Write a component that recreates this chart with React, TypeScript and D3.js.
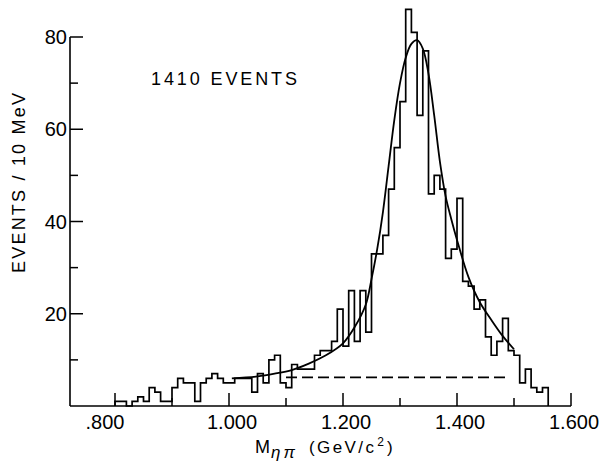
import React from "react";
import * as d3 from "d3";

// eta-pi mass histogram, 10 MeV bins starting at 0.800 GeV
const binStart = 0.8;
const binWidth = 0.01;
const counts = [
  1, 1, 0, 1, 2, 1, 4, 3, 1, 1,
  4, 6, 5, 5, 1, 5, 6, 7, 6, 5,
  5, 6, 6, 6, 3, 7, 5, 10, 11, 5,
  4, 9, 8, 8, 8, 11, 12, 12, 14, 21,
  13, 25, 14, 25, 16, 33, 33, 37, 47, 56,
  66, 86, 81, 63, 77, 46, 50, 47, 32, 34,
  45, 27, 26, 21, 23, 15, 11, 14, 19, 12,
  11, 5, 8, 4, 3, 4,
];

// fitted curve
const fitMass = [
  1.005, 1.05, 1.08, 1.11, 1.14, 1.17, 1.2, 1.22, 1.24, 1.25, 1.26, 1.27, 1.28, 1.29, 1.3,
  1.31, 1.32, 1.33, 1.34, 1.35, 1.36, 1.37, 1.38, 1.39, 1.4, 1.42, 1.44, 1.46, 1.48, 1.5,
];
const fitEvents = [
  6.0, 6.4, 7.0, 7.8, 9.2, 11, 13.6, 17, 22, 27.5, 34, 42, 52, 62, 70,
  75.5, 78.5, 79.3, 77.5, 72, 63, 53, 45.5, 40.5, 36, 28, 22.5, 18.7, 15.2, 12.3,
];

// dashed background level
const bgMass = [1.1, 1.49];
const bgLevel = 6.2;

const xMajor = [0.8, 1.0, 1.2, 1.4, 1.6];
const xMinor = [0.9, 1.1, 1.3, 1.5];
const xLabels = [".800", "1.000", "1.200", "1.400", "1.600"];
const yMajor = [20, 40, 60, 80];
const yMinor = [10, 30, 50, 70];

const font = "'Liberation Sans', Arial, sans-serif";

export default function App() {
  const W = 604;
  const H = 464;
  const axisLeft = 70;

  const x = d3.scaleLinear().domain([0.8, 1.6]).range([115, 571]);
  const y = d3.scaleLinear().domain([0, 80]).range([406, 37]);

  // histogram outline as one stepped path
  const pts: [number, number][] = [[binStart, 0]];
  counts.forEach((c, i) => {
    const m0 = binStart + i * binWidth;
    pts.push([m0, c], [m0 + binWidth, c]);
  });
  pts.push([binStart + counts.length * binWidth, 0]);
  const histPath = d3
    .line<[number, number]>()
    .x((d) => x(d[0]))
    .y((d) => y(d[1]))(pts);

  const fitPath = d3
    .line<number>()
    .curve(d3.curveCatmullRom.alpha(0.5))
    .x((m) => x(m))
    .y((_, i) => y(fitEvents[i]))(fitMass);

  return (
    <svg
      width={W}
      height={H}
      style={{ position: "absolute", left: 0, top: 0, background: "#fff" }}
    >
      {/* axes */}
      <line x1={axisLeft} x2={axisLeft} y1={y(80)} y2={y(0)} stroke="#000" strokeWidth={1.6} />
      <line x1={axisLeft} x2={x(1.6)} y1={y(0)} y2={y(0)} stroke="#000" strokeWidth={1.6} />

      {yMajor.map((v) => (
        <g key={"ym" + v}>
          <line x1={axisLeft} x2={axisLeft + 13} y1={y(v)} y2={y(v)} stroke="#000" strokeWidth={1.5} />
          <text
            x={axisLeft - 3}
            y={y(v) + 7}
            textAnchor="end"
            fontFamily={font}
            fontSize={20}
          >
            {v}
          </text>
        </g>
      ))}
      {yMinor.map((v) => (
        <line key={"yn" + v} x1={axisLeft} x2={axisLeft + 8} y1={y(v)} y2={y(v)} stroke="#000" strokeWidth={1.5} />
      ))}

      {xMajor.map((m, i) => (
        <g key={"xm" + m}>
          <line x1={x(m)} x2={x(m)} y1={y(0)} y2={y(0) - 13} stroke="#000" strokeWidth={1.5} />
          <text
            x={x(m) + (xLabels[i].startsWith(".") ? -10 : 3)}
            y={429}
            textAnchor="middle"
            fontFamily={font}
            fontSize={20}
          >
            {xLabels[i]}
          </text>
        </g>
      ))}
      {xMinor.map((m) => (
        <line key={"xn" + m} x1={x(m)} x2={x(m)} y1={y(0)} y2={y(0) - 8} stroke="#000" strokeWidth={1.5} />
      ))}

      {/* histogram */}
      <path d={histPath ?? ""} fill="none" stroke="#000" strokeWidth={1.7} strokeLinejoin="miter" />

      {/* background and fit */}
      <line
        x1={x(bgMass[0])}
        x2={x(bgMass[1])}
        y1={y(bgLevel)}
        y2={y(bgLevel)}
        stroke="#000"
        strokeWidth={1.6}
        strokeDasharray="11 5"
      />
      <path d={fitPath ?? ""} fill="none" stroke="#000" strokeWidth={1.8} />

      {/* labels */}
      <text x={151} y={85} fontFamily={font} fontSize={18} textLength={146} lengthAdjust="spacing">
        1410 EVENTS
      </text>
      <text
        transform="translate(25,183) rotate(-90)"
        textAnchor="middle"
        fontFamily={font}
        fontSize={18}
        textLength={180}
        lengthAdjust="spacing"
      >
        EVENTS / 10 MeV
      </text>
      <text y={453} fontFamily={font} fontSize={17}>
        <tspan x={255} fontSize={18}>M</tspan>
        <tspan x={271} dy={5} fontStyle="italic" fontSize={17} letterSpacing={3}>
          ηπ
        </tspan>
        <tspan x={309} dy={-5} letterSpacing={2.4}>
          (GeV/c
        </tspan>
        <tspan dx={1} dy={-7} fontSize={12}>
          2
        </tspan>
        <tspan dx={3} dy={7}>
          )
        </tspan>
      </text>
    </svg>
  );
}
